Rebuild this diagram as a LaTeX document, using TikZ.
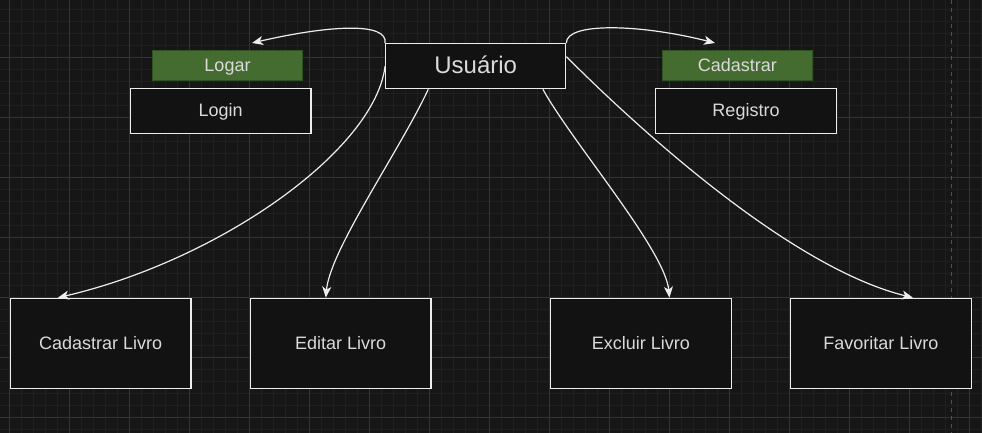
\documentclass[tikz,border=0pt]{standalone}
\usepackage{fontspec}
\setmainfont{Liberation Sans}
\usepackage{tikz}
\usetikzlibrary{arrows.meta}
\definecolor{fundo}{HTML}{161616}
\definecolor{caixafundo}{HTML}{121212}
\definecolor{gradefina}{HTML}{202020}
\definecolor{gradegrossa}{HTML}{333333}
\definecolor{pagina}{HTML}{505050}
\definecolor{traco}{HTML}{EDEDED}
\definecolor{texto}{HTML}{DADADA}
\definecolor{verdefundo}{HTML}{446C30}
\definecolor{verdeborda}{HTML}{2E5220}

\begin{document}
\begin{tikzpicture}[x=1pt,y=-1pt,
    caixa/.style={draw=traco,fill=caixafundo,line width=1.3pt,inner sep=0pt,text=texto,
      font=\fontsize{18}{20}\selectfont,text height=13pt,text depth=1.6pt},
    verde/.style={draw=verdeborda,fill=verdefundo,line width=1pt,inner sep=0pt,text=texto,
      font=\fontsize{18}{20}\selectfont,text height=13pt,text depth=1.6pt},
    seta/.style={draw=traco,line width=1.2pt,-{Stealth[length=11pt,width=9pt,inset=3pt]}}]
			\fill[fundo] (0,0) rectangle (982,433);
			\useasboundingbox (0,0) rectangle (982,433);
			\foreach \k in {0,...,81}
				\draw[gradefina,line width=0.6pt] ({9.3+12*\k},0) -- ({9.3+12*\k},433);
			\foreach \k in {0,...,35}
				\draw[gradefina,line width=0.6pt] (0,{9.3+12*\k}) -- (982,{9.3+12*\k});
			\foreach \k in {0,...,16}
				\draw[gradegrossa,line width=0.8pt] ({9.3+60*\k},0) -- ({9.3+60*\k},433);
			\foreach \k in {1,...,7}
				\draw[gradegrossa,line width=0.8pt] (0,{-2.7+60*\k}) -- (982,{-2.7+60*\k});
			\draw[pagina,line width=1pt,dash pattern=on 4pt off 4pt] (951,0) -- (951,433);
			\node[caixa,minimum width=180pt,minimum height=45pt,font=\fontsize{24}{26}\selectfont,
				text height=17.3pt,text depth=3.1pt] (usuario) at (475.7,66.2) {Usuário};
			\node[verde,minimum width=150pt,minimum height=29.6pt] (logar) at (227.5,65.5) {Logar};
			\node[caixa,minimum width=180.7pt,minimum height=45pt] (login) at (220.7,111.2) {Login};
			\node[verde,minimum width=150pt,minimum height=29.6pt] (cadastrar) at (737.3,65.5) {Cadastrar};
			\node[caixa,minimum width=180.6pt,minimum height=45pt] (registro) at (746,111.2) {Registro};
			\node[caixa,minimum width=180.7pt,minimum height=90.4pt] (cadLivro) at (100.7,343.5) {Cadastrar Livro};
			\node[caixa,minimum width=180.7pt,minimum height=90.4pt] (ediLivro) at (340.7,343.5) {Editar Livro};
			\node[caixa,minimum width=180.7pt,minimum height=90.4pt] (excLivro) at (640.8,343.5) {Excluir Livro};
			\node[caixa,minimum width=180.7pt,minimum height=90.4pt] (favLivro) at (880.8,343.5) {Favoritar Livro};
			\coordinate (logarPonta) at (252,43);
			\coordinate (cadastrarPonta) at (715,43);
			\draw[seta] (usuario.north west) .. controls (388,22) and (330,25) .. (logarPonta);
			\draw[seta] (usuario.north east) .. controls (566,22) and (640,24) .. (cadastrarPonta);
			\draw[seta] (usuario.west) .. controls (375,150) and (220,260) .. (cadLivro.133);
			\draw[seta] (usuario.206) .. controls (400,150) and (330,250) .. (ediLivro.108);
			\draw[seta] (usuario.341.4) .. controls (572,142) and (665,250) .. (excLivro.58);
			\draw[seta] (usuario.6.4) .. controls (660,150) and (800,270) .. (favLivro.55.5);
		\end{tikzpicture}
\end{document}
